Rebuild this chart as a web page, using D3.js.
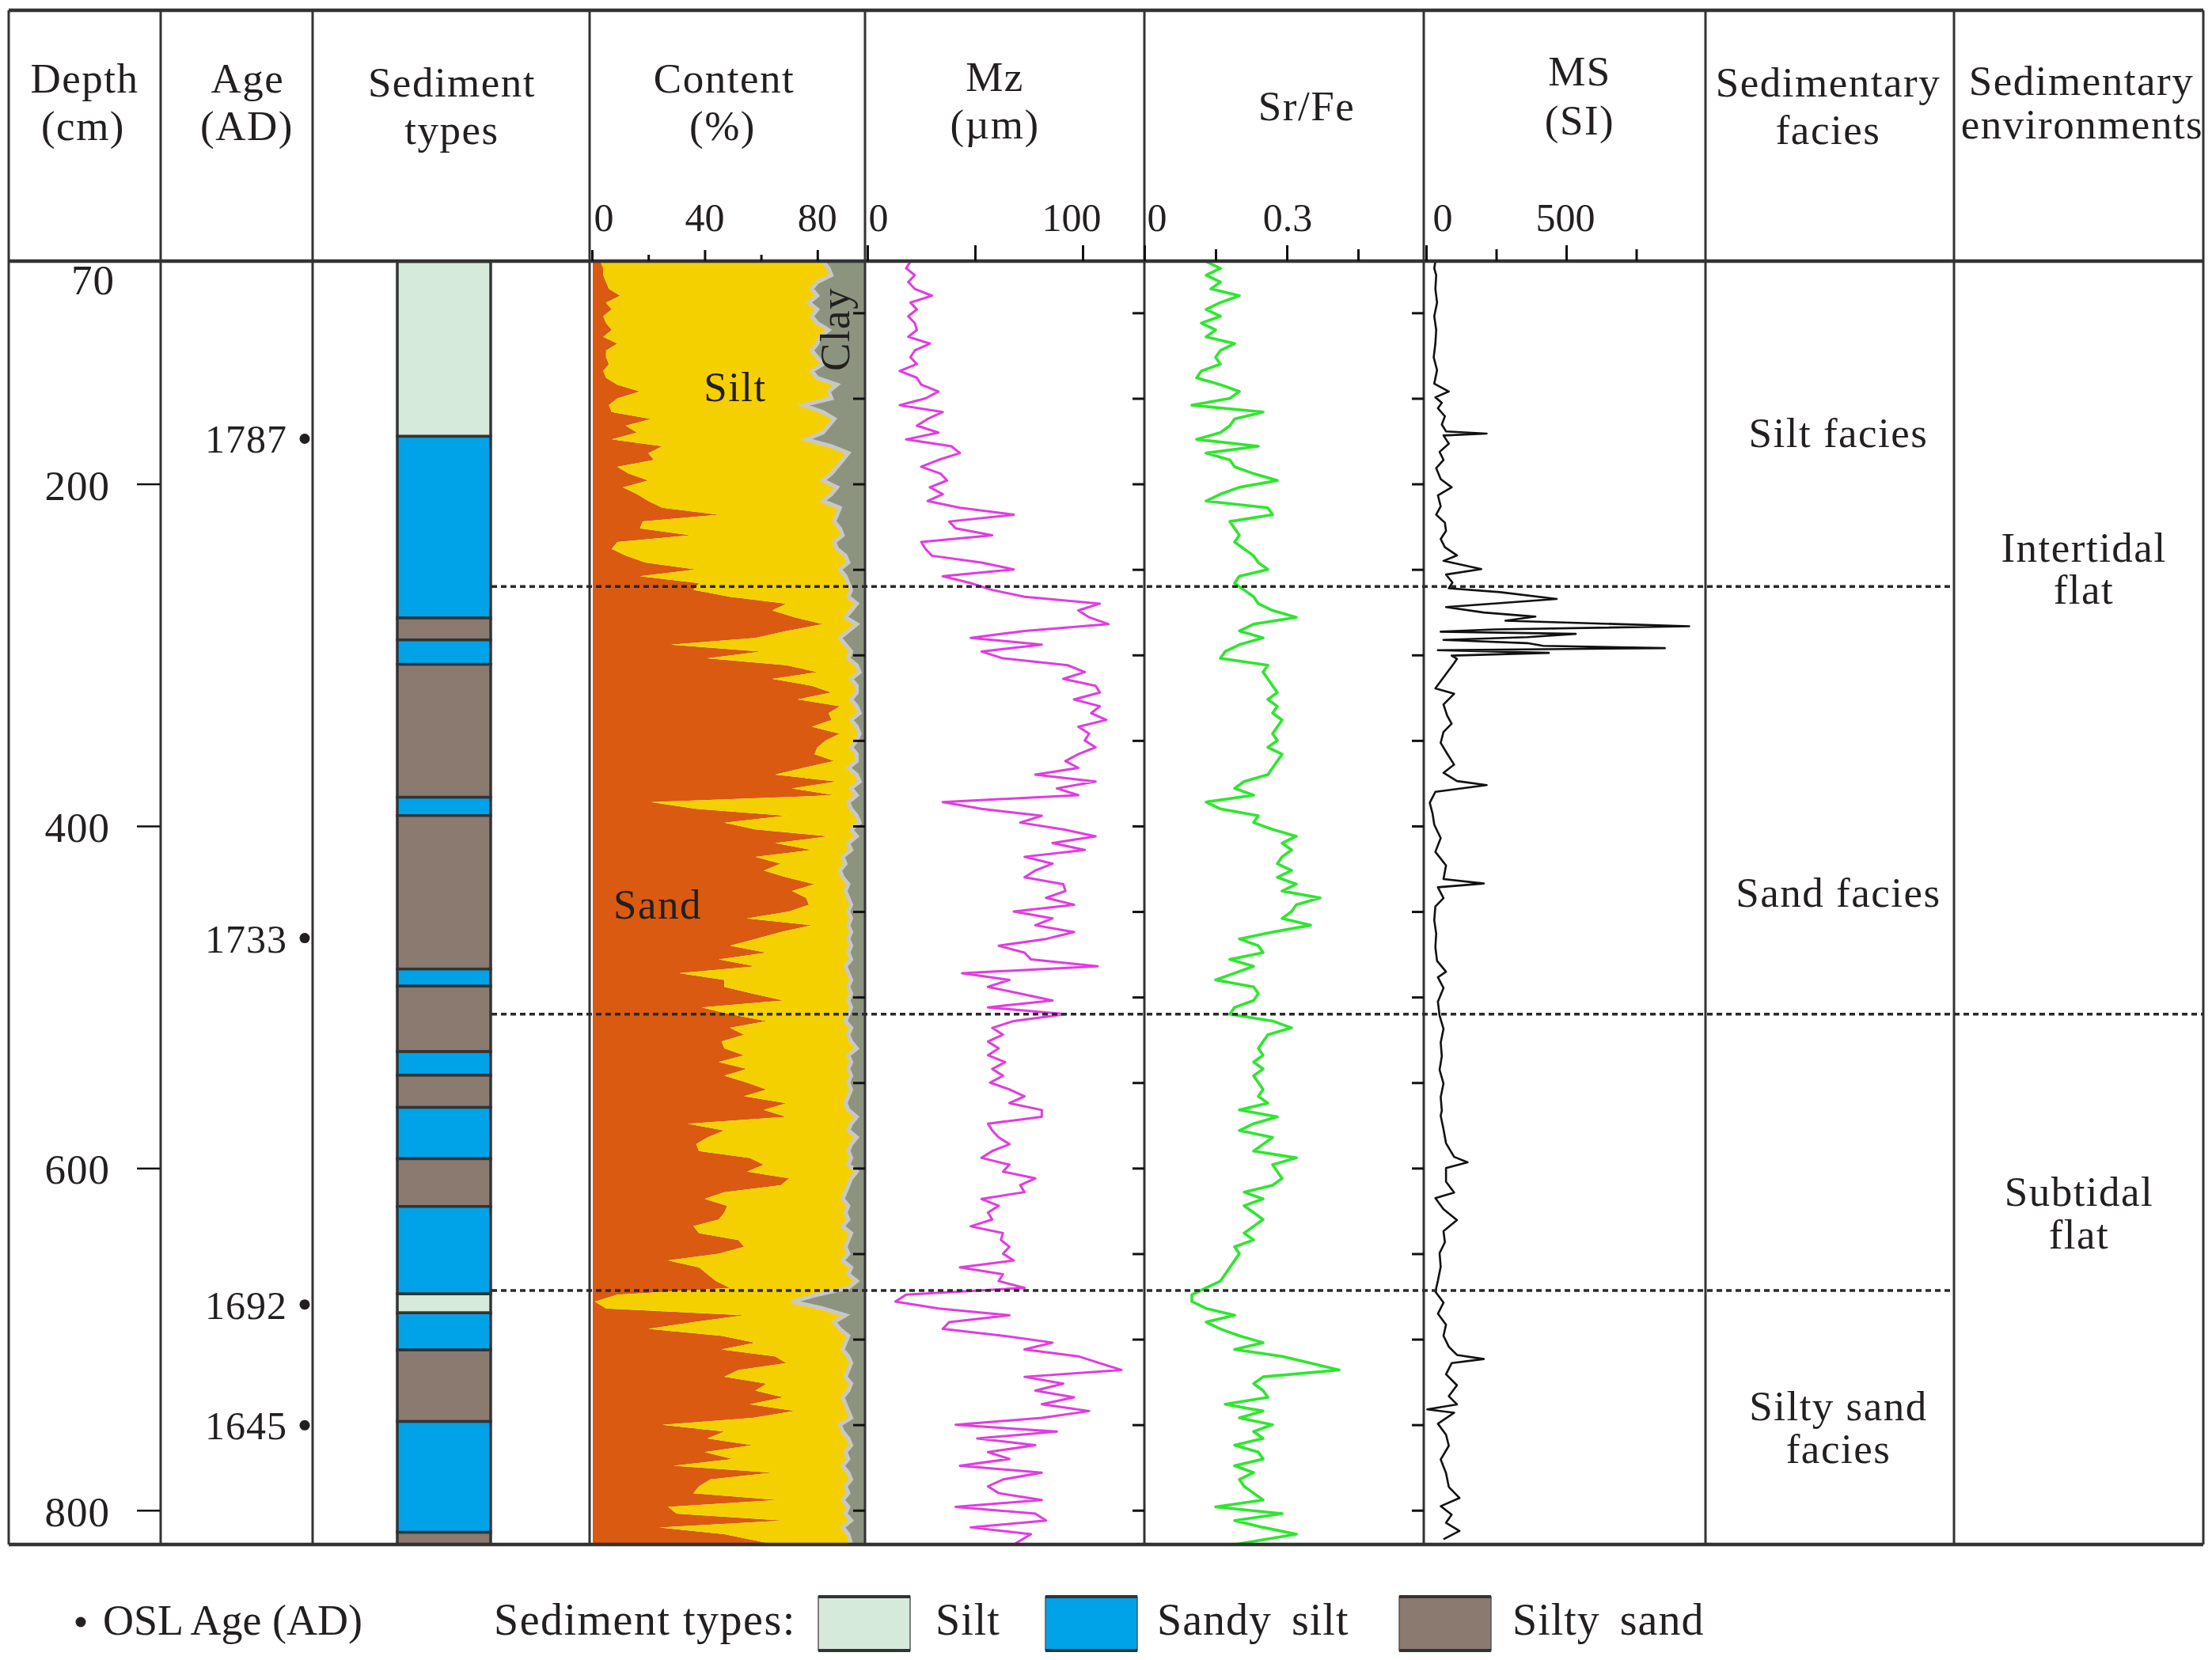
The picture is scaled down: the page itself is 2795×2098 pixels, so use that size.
<!DOCTYPE html>
<html><head><meta charset="utf-8">
<script src="https://cdn.jsdelivr.net/npm/d3@7"></script>
<style>
body{margin:0;background:#fff}
svg{display:block}
text{font-family:"Liberation Serif","Times New Roman",serif;fill:#231f20}
</style>
</head><body>
<svg id="chart" width="2795" height="2098"></svg>
<script>
// ---------- DATA ----------
const depth = [70,74,78,82,86,90,94,98,102,106,110,114,118,122,126,130,134,138,142,146,150,154,158,162,166,170,174,178,182,186,190,194,198,202,206,210,214,218,222,226,230,234,238,242,246,250,254,258,262,266,270,274,278,282,286,290,294,298,302,306,310,314,318,
322,326,330,334,338,342,346,350,354,358,362,366,370,374,378,382,386,390,394,398,402,406,410,414,418,422,426,430,434,438,442,446,450,454,458,462,466,470,474,478,482,486,490,494,498,502,506,510,514,518,522,526,530,534,538,542,546,550,554,558,562,566,
570,574,578,582,586,590,594,598,602,606,610,614,618,622,626,630,634,638,642,646,650,654,658,662,666,670,674,678,682,686,690,694,698,702,706,710,714,718,722,726,730,734,738,742,746,750,754,758,762,766,770,774,778,782,786,790,794,798,802,806,810,814,820];

const sand = [3,4,4,5,6,10,5,7,4,5,7,4,9,5,5,6,4,5,9,17,9,6,7,21,12,16,7,25,20,22,9,13,20,11,16,20,25,45,18,17,35,9,7,12,19,37,17,38,36,49,69,64,72,82,69,58,28,60,41,69,80,64,78,
85,73,88,84,85,78,88,83,80,79,86,75,65,87,71,86,21,37,69,47,58,84,65,78,58,67,61,69,79,71,76,77,70,55,78,67,58,49,62,45,58,31,47,47,57,68,39,49,62,49,54,46,47,54,45,55,47,55,62,54,69,61,
69,34,47,41,37,38,56,61,55,70,67,47,40,48,47,45,36,38,52,54,45,27,38,41,44,49,9,1,5,54,36,20,46,58,46,65,69,52,47,62,58,68,56,72,57,25,47,41,57,40,50,29,64,42,38,36,66,27,30,68,24,47,65];

const silt = [79,80,81,75,72,70,72,73,74,75,77,77,71,73,75,76,74,75,78,67,76,69,75,65,72,66,69,60,71,67,78,72,62,76,69,62,63,42,68,71,54,77,80,78,72,51,73,53,56,42,25,28,18,12,22,30,62,32,50,25,15,28,16,
9,19,6,11,7,16,7,11,12,15,8,16,29,8,21,8,70,55,25,48,34,10,26,14,31,23,27,20,12,19,15,15,21,37,13,25,33,43,29,47,32,60,45,44,35,23,53,42,28,43,37,46,47,37,47,36,45,36,30,37,21,30,
25,58,44,53,55,53,36,30,39,22,24,43,49,43,43,46,53,54,39,36,46,62,54,50,50,42,71,70,77,36,50,68,45,32,43,26,23,39,43,30,33,21,34,19,35,63,42,50,35,50,41,60,27,50,52,55,23,64,60,24,65,44,27];

const clay = [18,16,15,20,22,20,23,20,22,20,16,19,20,22,20,18,22,20,13,16,15,25,18,14,16,18,24,15,9,11,13,15,18,13,15,18,12,13,14,12,11,14,13,10,9,12,10,9,8,9,6,8,10,6,9,12,10,8,9,6,5,8,6,
6,8,6,5,8,6,5,6,8,6,6,9,6,5,8,6,9,8,6,5,8,6,9,8,11,10,12,11,9,10,9,8,9,8,9,8,9,8,9,8,10,9,8,9,8,9,8,9,10,8,9,8,6,9,8,9,8,9,8,9,10,9,
6,8,9,6,8,9,8,9,6,8,9,10,11,9,10,9,11,8,9,10,9,11,8,9,6,9,20,29,18,10,14,12,9,10,11,9,8,9,10,8,9,11,10,9,8,12,11,9,8,10,9,11,9,8,10,9,11,9,10,8,11,9,8];

const mz = [20,18,22,19,22,30,20,23,19,22,23,19,29,22,20,23,15,23,25,33,27,15,35,28,23,33,18,39,43,33,25,34,37,29,35,28,43,68,38,41,58,25,27,30,53,68,35,48,58,73,108,98,103,112,73,48,81,53,63,93,101,91,106,
108,96,108,104,111,98,103,101,106,98,92,98,78,106,88,98,35,53,81,71,91,106,86,101,73,86,78,73,91,92,83,96,68,86,78,96,83,61,73,76,107,44,66,56,71,86,56,92,68,58,63,56,61,56,64,58,63,57,66,73,66,81,
81,56,58,61,66,58,53,66,63,78,71,73,53,61,56,58,48,63,62,66,63,68,43,63,61,73,18,13,33,66,38,35,63,86,73,98,108,118,73,91,78,96,81,103,81,41,88,51,78,56,66,43,81,63,56,61,81,41,78,83,48,76,68];

const srfe = [0.13,0.16,0.13,0.16,0.14,0.20,0.16,0.13,0.16,0.12,0.15,0.13,0.19,0.16,0.15,0.16,0.12,0.11,0.16,0.20,0.18,0.10,0.25,0.19,0.18,0.16,0.11,0.24,0.13,0.18,0.19,0.23,0.28,0.20,0.16,0.13,0.26,0.27,0.18,0.19,0.20,0.19,0.21,0.23,0.24,0.26,0.20,0.19,0.21,0.23,0.24,0.27,0.32,0.23,0.20,0.25,0.20,0.17,0.16,0.26,0.25,0.26,0.27,
0.28,0.26,0.28,0.27,0.29,0.28,0.27,0.28,0.26,0.29,0.28,0.27,0.26,0.21,0.19,0.23,0.13,0.16,0.24,0.23,0.27,0.32,0.29,0.31,0.29,0.28,0.31,0.28,0.32,0.29,0.37,0.32,0.31,0.29,0.35,0.27,0.20,0.24,0.25,0.18,0.23,0.19,0.15,0.23,0.24,0.23,0.19,0.18,0.27,0.31,0.26,0.25,0.24,0.25,0.23,0.25,0.23,0.24,0.25,0.24,0.26,0.20,
0.28,0.23,0.20,0.27,0.25,0.23,0.32,0.27,0.28,0.29,0.27,0.21,0.25,0.21,0.23,0.25,0.23,0.21,0.23,0.19,0.20,0.19,0.18,0.17,0.16,0.13,0.10,0.10,0.13,0.19,0.13,0.16,0.20,0.25,0.19,0.29,0.35,0.41,0.25,0.23,0.25,0.26,0.17,0.25,0.20,0.27,0.23,0.25,0.19,0.24,0.25,0.19,0.23,0.20,0.21,0.23,0.25,0.15,0.29,0.19,0.25,0.32,0.19];

const msDepth = [70,74,78,86,94,102,110,118,126,133.5,141.4,146,149.4,152.6,155.8,160.5,165.3,169.3,170.6,171.7,176.5,181.3,186,190.8,197.2,202,206.7,213.1,218,222.7,227.5,232.2,237,241.8,245,249.8,253,257.7,261,263.3,267.3,269.7,272,275.2,277.6,280,283.2,285.1,286.4,287.7,289.6,291.2,293.1,294.7,296,297.2,298.8,300.4,302.3,304.7,319.5,
322.7,329,335.4,340.2,345,351.4,357.7,364.1,368.9,373.7,376.1,380,386.4,392.8,399.2,407.1,415.1,423,431,433.6,435.8,442.2,447,455,462.9,470.8,478.8,485.2,488.4,494.7,502.7,510.7,518.6,526.6,534.6,542.5,550.5,558.5,566.4,
569.3,577.3,585.4,593.4,596.6,599.9,607.9,614.3,617.5,624,630.4,636.8,643.3,649.7,657.7,665.8,672.2,678.6,685.1,691.5,698,704.4,709.2,711.6,714,720.5,726.9,733.3,738.1,741,743,749.4,755.8,762.3,770.3,778.3,786.4,792.8,797.6,802.5,807.3,812.1,816.9];
const ms = [33,29,36,33,39,29,36,33,27,39,29,81,33,56,42,67,56,71,216,62,81,48,62,36,52,91,42,52,36,67,71,52,67,110,62,197,71,94,81,264,466,264,71,206,390,283,939,245,52,534,361,62,361,418,852,42,438,91,110,100,33,
100,62,75,91,62,52,75,100,62,110,216,33,13,23,29,52,33,71,62,206,42,62,33,29,36,33,39,71,42,62,42,48,62,52,56,48,62,52,56,
52,62,71,100,148,71,71,100,33,62,110,62,67,48,52,42,33,62,42,71,62,81,110,206,91,71,110,81,110,4,100,42,71,81,52,71,81,119,52,91,71,119,62];

const layerTop    = [70,172.2,278.4,291.2,305.5,383.2,393.9,483.6,493.6,531.9,545.7,564.5,594.5,622.4,673.5,684.6,706.3,748.1,812.9];
const layerBottom = [172.2,278.4,291.2,305.5,383.2,393.9,483.6,493.6,531.9,545.7,564.5,594.5,622.4,673.5,684.6,706.3,748.1,812.9,820];
const layerType   = ["Silt","Sandy silt","Silty sand","Sandy silt","Silty sand","Sandy silt","Silty sand","Sandy silt","Silty sand","Sandy silt","Silty sand","Sandy silt","Silty sand","Sandy silt","Silt","Sandy silt","Silty sand","Sandy silt","Silty sand"];

const ageDepth = [173.6,465.5,679.7,750.3];
const ageLabel = ["1787","1733","1692","1645"];

const depthTicks = [70,200,400,600,800];
const boundaryDepth = [260,510,671.5];
const boundaryFull = [false,true,false];

const typeNames = ["Silt","Sandy silt","Silty sand"];
const typeColors = ["#d6eadc","#00a2e8","#8a7a70"];

// ---------- SETUP ----------
const svg = d3.select("#chart");
const INK = "#333333";
const y = d3.scaleLinear().domain([70,820]).range([330.5,1952]);
const xC = d3.scaleLinear().domain([0,100]).range([748,1104]);
const xMz = d3.scaleLinear().domain([0,100]).range([1096,1368]);
const xSr = d3.scaleLinear().domain([0,0.3]).range([1446,1626]);
const xMs = d3.scaleLinear().domain([0,500]).range([1802,1979]);
const typeColor = d3.scaleOrdinal().domain(typeNames).range(typeColors);

const colX = [11,203,395,745,1093,1446,1799,2155,2469,2784];
const TOP = 13, HEAD = 330, BOT = 1952;

// ---------- CONTENT (stacked area) ----------
const defs = svg.append("defs");
defs.append("clipPath").attr("id","cclip").append("rect")
  .attr("x",749).attr("y",HEAD).attr("width",1092-749).attr("height",BOT-HEAD);

const rows = depth.map((d,i)=>({depth:d,sand:sand[i],silt:silt[i],clay:clay[i]}));
const stacked = d3.stack().keys(["sand","silt","clay"])(rows);
const area = d3.area().y(d=>y(d.data.depth)).x0(d=>xC(d[0])).x1(d=>xC(d[1]));
const fillC = {sand:"#d95a10",silt:"#f5d000",clay:"#8c947f"};
const cg = svg.append("g").attr("clip-path","url(#cclip)");
cg.selectAll("path.layer").data(stacked).join("path")
  .attr("class","layer").attr("d",area).attr("fill",s=>fillC[s.key]);
cg.append("path").datum(stacked[2])
  .attr("d",d3.line().y(d=>y(d.data.depth)).x(d=>xC(d[0])))
  .attr("fill","none").attr("stroke","#c8c8c8").attr("stroke-width",5);

// ---------- SEDIMENT COLUMN ----------
svg.append("g").selectAll("rect").data(layerTop).join("rect")
  .attr("x",502).attr("width",118)
  .attr("y",(d)=>y(d))
  .attr("height",(d,i)=>y(layerBottom[i])-y(d))
  .attr("fill",(d,i)=>typeColor(layerType[i]))
  .attr("stroke",INK).attr("stroke-width",3.5);

// ---------- CURVES ----------
svg.append("path").datum(depth.map((d,i)=>[d,mz[i]]))
  .attr("d",d3.line().x(p=>xMz(p[1])).y(p=>y(p[0])))
  .attr("fill","none").attr("stroke","#e03ce0").attr("stroke-width",3).attr("stroke-linejoin","round");
svg.append("path").datum(depth.map((d,i)=>[d,srfe[i]]))
  .attr("d",d3.line().x(p=>xSr(p[1])).y(p=>y(p[0])))
  .attr("fill","none").attr("stroke","#2ee62e").attr("stroke-width",3.6).attr("stroke-linejoin","round");
svg.append("path").datum(msDepth.map((d,i)=>[d,ms[i]]))
  .attr("d",d3.line().x(p=>xMs(p[1])).y(p=>y(p[0])))
  .attr("fill","none").attr("stroke","#111").attr("stroke-width",2.6).attr("stroke-linejoin","round");

// ---------- FRAME ----------
const frame = svg.append("g").attr("stroke",INK);
colX.forEach(x=>frame.append("line").attr("x1",x).attr("x2",x).attr("y1",TOP).attr("y2",BOT).attr("stroke-width",3));
[TOP,HEAD,BOT].forEach(yy=>frame.append("line").attr("x1",colX[0]).attr("x2",colX[colX.length-1]).attr("y1",yy).attr("y2",yy).attr("stroke-width",4.5));

// ---------- AXES ----------
function clean(g){g.select(".domain").remove(); g.selectAll(".tick line").attr("stroke","#111").attr("stroke-width",3);}
function topAxis(scale, major, minor, majLen, minLen){
  svg.append("g").attr("transform",`translate(0,${HEAD})`)
    .call(d3.axisTop(scale).tickValues(major).tickSize(majLen).tickFormat("")).call(clean);
  if(minor.length) svg.append("g").attr("transform",`translate(0,${HEAD})`)
    .call(d3.axisTop(scale).tickValues(minor).tickSize(minLen).tickFormat("")).call(clean);
}
topAxis(xC,[0,40,80],[20,60],14,8);
topAxis(xMz,[0,50,100],[],20,0);
topAxis(xSr,[0,0.3],[0.15,0.45],20,15);
topAxis(xMs,[0,500],[250,750],20,15);

const tickLabels = [
  {s:xC,v:0,t:"0",dx:15},{s:xC,v:40,t:"40",dx:0},{s:xC,v:80,t:"80",dx:0},
  {s:xMz,v:0,t:"0",dx:14},{s:xMz,v:100,t:"100",dx:-14},
  {s:xSr,v:0,t:"0",dx:16},{s:xSr,v:0.3,t:"0.3",dx:1},
  {s:xMs,v:0,t:"0",dx:21},{s:xMs,v:500,t:"500",dx:-1}];
svg.append("g").selectAll("text").data(tickLabels).join("text")
  .attr("x",d=>d.s(d.v)+d.dx).attr("y",292).attr("text-anchor","middle")
  .attr("font-size",50).text(d=>d.t);

[1093,1446,1799].forEach(x=>{
  svg.append("g").attr("transform",`translate(${x},0)`)
    .call(d3.axisLeft(y).tickValues(d3.range(100,801,50)).tickSize(15).tickFormat("")).call(clean);
});
svg.append("g").attr("transform","translate(202,0)")
  .call(d3.axisLeft(y).tickValues(depthTicks.filter(d=>d!==70)).tickSize(29).tickFormat(""))
  .call(g=>{g.select(".domain").remove(); g.selectAll(".tick line").attr("stroke","#111").attr("stroke-width",2.5);});
svg.append("g").selectAll("text").data(depthTicks).join("text")
  .attr("x",d=>d===70?145:139).attr("y",d=>d===70?y(d)+41:y(d)+20)
  .attr("text-anchor","end").attr("font-size",53).attr("letter-spacing",1).text(d=>d);

// ---------- AGES ----------
const ag = svg.append("g");
ag.selectAll("circle").data(ageDepth).join("circle")
  .attr("cx",385).attr("cy",d=>y(d)).attr("r",6.5).attr("fill","#231f20");
ag.selectAll("text").data(ageDepth).join("text")
  .attr("x",363).attr("y",d=>y(d)+18).attr("text-anchor","end")
  .attr("font-size",50).attr("letter-spacing",1).text((d,i)=>ageLabel[i]);

// ---------- BOUNDARIES ----------
svg.append("g").selectAll("line").data(boundaryDepth).join("line")
  .attr("x1",621).attr("x2",(d,i)=>boundaryFull[i]?2784:2469)
  .attr("y1",d=>y(d)).attr("y2",d=>y(d))
  .attr("stroke","#2a2a2a").attr("stroke-width",3.5).attr("stroke-dasharray","7 5");

// ---------- TEXT ----------
const headers = [
  ["Depth",107,117],["(cm)",105,177],
  ["Age",313,117],["(AD)",312,177],
  ["Sediment",571,122],["types",571,182],
  ["Content",915,117],["(%)",913,177],
  ["Mz",1257,115],["(\u00b5m)",1257,175],
  ["Sr/Fe",1651,152],
  ["MS",1996,108],["(SI)",1996,170],
  ["Sedimentary",2310,122],["facies",2310,182],
  ["Sedimentary",2630,120],["environments",2631,175]];
svg.append("g").selectAll("text").data(headers).join("text")
  .attr("x",d=>d[1]).attr("y",d=>d[2]).attr("text-anchor","middle")
  .attr("font-size",53).attr("letter-spacing",1.5).text(d=>d[0]);

const labels = [
  ["Silt facies",2323,565],["Sand facies",2323,1146],["Silty sand",2323,1795],["facies",2323,1849],
  ["Intertidal",2633,710],["flat",2633,763],["Subtidal",2627,1524],["flat",2627,1578],
  ["Silt",929,507],["Sand",831,1161]];
svg.append("g").selectAll("text").data(labels).join("text")
  .attr("x",d=>d[1]).attr("y",d=>d[2]).attr("text-anchor","middle")
  .attr("font-size",53).attr("letter-spacing",1.5).text(d=>d[0]);
svg.append("text").attr("transform","translate(1073,416) rotate(-90)")
  .attr("text-anchor","middle").attr("font-size",53).attr("letter-spacing",1.5).text("Clay");

// ---------- LEGEND ----------
const lg = svg.append("g");
lg.append("circle").attr("cx",102).attr("cy",2050).attr("r",6.5).attr("fill","#231f20");
lg.append("text").attr("x",130).attr("y",2066).attr("font-size",54).text("OSL Age (AD)");
lg.append("text").attr("x",624).attr("y",2066).attr("font-size",56).attr("letter-spacing",1.5).text("Sediment types:");
const legX = [1034,1321,1768];
const legLabelX = [1182,1462,1911];
const legText = ["Silt","Sandy silt","Silty sand"];
lg.selectAll("rect").data(typeNames).join("rect")
  .attr("x",(d,i)=>legX[i]).attr("y",2018).attr("width",116).attr("height",68)
  .attr("fill",d=>typeColor(d)).attr("stroke","#555").attr("stroke-width",1.5);
lg.selectAll("line.tb").data(typeNames.flatMap((d,i)=>[[i,2018],[i,2086]])).join("line")
  .attr("class","tb").attr("x1",d=>legX[d[0]]).attr("x2",d=>legX[d[0]]+116)
  .attr("y1",d=>d[1]).attr("y2",d=>d[1]).attr("stroke","#333").attr("stroke-width",4);
lg.selectAll("text.lt").data(legText).join("text").attr("class","lt")
  .attr("x",(d,i)=>legLabelX[i]).attr("y",2066).attr("font-size",56)
  .attr("letter-spacing",1).attr("word-spacing",10).text(d=>d);
</script>
</body></html>
